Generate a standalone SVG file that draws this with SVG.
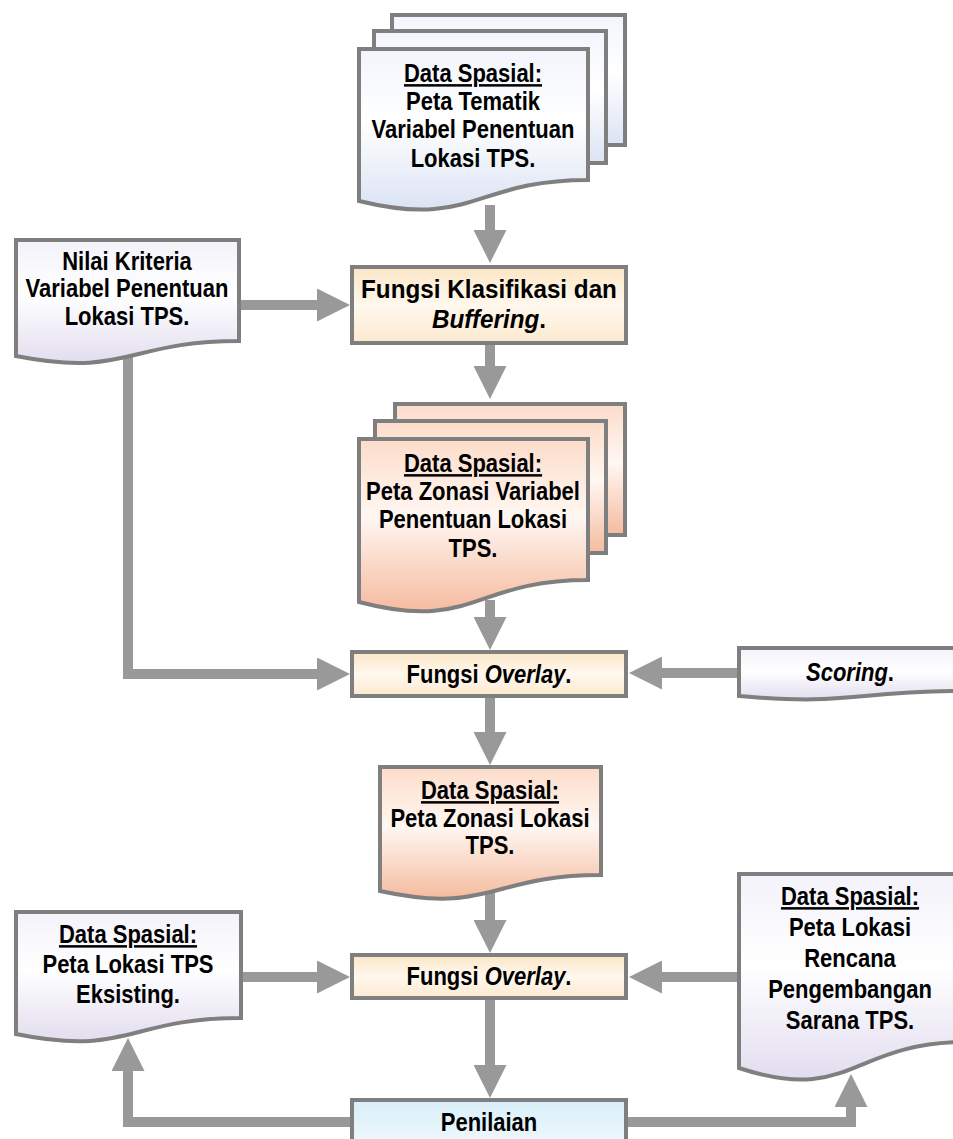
<svg xmlns="http://www.w3.org/2000/svg" width="953" height="1139" viewBox="0 0 953 1139">
  <style>
    .shape { stroke: #7f7f7f; stroke-width: 4; stroke-linejoin: miter; }
    .lbl { font-family: "Liberation Sans", Arial, sans-serif; font-weight: bold; font-size: 25px; fill: #000; text-anchor: middle; }
    .it { font-style: italic; }
    .ul { text-decoration: underline; }
    .conn { fill: none; stroke: #999999; stroke-width: 10; stroke-linejoin: miter; marker-end: url(#head); }
  </style>
  <defs>
    <marker id="head" viewBox="0 0 10 10" refX="0" refY="5" markerWidth="3.3" markerHeight="3.3" orient="auto" markerUnits="strokeWidth">
      <path d="M0,0 L10,5 L0,10 Z" fill="#999999"/>
    </marker>
    <linearGradient id="gBlue" x1="0" y1="0" x2="0" y2="1">
      <stop offset="0" stop-color="#f2f5fc"/>
      <stop offset="0.45" stop-color="#ffffff"/>
      <stop offset="1" stop-color="#dbe3f3"/>
    </linearGradient>
    <linearGradient id="gPeach" x1="0" y1="0" x2="0" y2="1">
      <stop offset="0" stop-color="#fcdcca"/>
      <stop offset="0.45" stop-color="#fff7f2"/>
      <stop offset="1" stop-color="#f5bb9f"/>
    </linearGradient>
    <linearGradient id="gLav" x1="0" y1="0" x2="0" y2="1">
      <stop offset="0" stop-color="#f4f2fa"/>
      <stop offset="0.45" stop-color="#ffffff"/>
      <stop offset="1" stop-color="#e2ddef"/>
    </linearGradient>
    <linearGradient id="gCream" x1="0" y1="0" x2="0" y2="1">
      <stop offset="0" stop-color="#fbe6c6"/>
      <stop offset="0.5" stop-color="#fff8ee"/>
      <stop offset="1" stop-color="#fce9cf"/>
    </linearGradient>
    <linearGradient id="gSky" x1="0" y1="0" x2="0" y2="1">
      <stop offset="0" stop-color="#d8eef8"/>
      <stop offset="1" stop-color="#f6fbfe"/>
    </linearGradient>
  </defs>

  <!-- connectors -->
  <g id="connectors">
    <path class="conn" d="M490,205 V230"/>
    <path class="conn" d="M241,305 H317"/>
    <path class="conn" d="M490,345 V366"/>
    <path class="conn" d="M490,600 V617"/>
    <path class="conn" d="M128,355 V674 H317"/>
    <path class="conn" d="M737,673 H662"/>
    <path class="conn" d="M490,698 V732"/>
    <path class="conn" d="M490,893 V920"/>
    <path class="conn" d="M243,977 H317"/>
    <path class="conn" d="M737,977 H662"/>
    <path class="conn" d="M490,1000 V1065"/>
    <path class="conn" d="M352,1122 H128 V1071"/>
    <path class="conn" d="M626,1122 H851 V1107"/>
  </g>

  <!-- stacked spatial data: thematic maps -->
  <g id="doc-peta-tematik">
    <rect class="shape" x="392" y="15" width="233" height="130" fill="url(#gBlue)"/>
    <rect class="shape" x="374" y="31" width="232" height="132" fill="url(#gBlue)"/>
    <path class="shape" d="M359,49 H588 V180 C473.5,180 473.5,229 359,201 Z" fill="url(#gBlue)"/>
    <g transform="matrix(0.88,0,0,1,473,0)">
      <text class="lbl" x="0" y="82"><tspan class="ul">Data Spasial:</tspan></text>
      <text class="lbl" x="0" y="110">Peta Tematik</text>
      <text class="lbl" x="0" y="138">Variabel Penentuan</text>
      <text class="lbl" x="0" y="167">Lokasi TPS.</text>
    </g>
  </g>

  <g id="doc-nilai-kriteria">
    <path class="shape" d="M16,240 H239 V341 C127.5,341 127.5,378 16,356 Z" fill="url(#gLav)"/>
    <g transform="matrix(0.88,0,0,1,127,0)">
      <text class="lbl" x="0" y="270">Nilai Kriteria</text>
      <text class="lbl" x="0" y="297">Variabel Penentuan</text>
      <text class="lbl" x="0" y="325">Lokasi TPS.</text>
    </g>
  </g>

  <g id="proc-klasifikasi">
    <rect class="shape" x="352" y="267" width="274" height="76" fill="url(#gCream)"/>
    <g transform="matrix(0.97,0,0,1,489,0)">
      <text class="lbl" x="0" y="298">Fungsi Klasifikasi dan</text>
      <text class="lbl" x="0" y="328"><tspan class="it">Buffering</tspan>.</text>
    </g>
  </g>

  <!-- stacked spatial data: zoning maps -->
  <g id="doc-peta-zonasi-variabel">
    <rect class="shape" x="395" y="404" width="230" height="131" fill="url(#gPeach)"/>
    <rect class="shape" x="375" y="421" width="231" height="132" fill="url(#gPeach)"/>
    <path class="shape" d="M359,439 H588 V580 C473.5,580 473.5,632 359,602 Z" fill="url(#gPeach)"/>
    <g transform="matrix(0.88,0,0,1,473,0)">
      <text class="lbl" x="0" y="472"><tspan class="ul">Data Spasial:</tspan></text>
      <text class="lbl" x="0" y="500">Peta Zonasi Variabel</text>
      <text class="lbl" x="0" y="528">Penentuan Lokasi</text>
      <text class="lbl" x="0" y="557">TPS.</text>
    </g>
  </g>

  <g id="proc-overlay-1">
    <rect class="shape" x="352" y="652" width="274" height="44" fill="url(#gCream)"/>
    <g transform="matrix(0.88,0,0,1,489,0)">
      <text class="lbl" x="0" y="683">Fungsi <tspan class="it">Overlay</tspan>.</text>
    </g>
  </g>

  <g id="doc-scoring">
    <path class="shape" d="M739,648 H967 V691 C851,691 851,706 739,696 Z" fill="url(#gLav)"/>
    <g transform="matrix(0.88,0,0,1,850,0)">
      <text class="lbl" x="0" y="681"><tspan class="it">Scoring</tspan>.</text>
    </g>
  </g>

  <g id="doc-peta-zonasi-lokasi">
    <path class="shape" d="M380,767 H601 V875 C490.5,875 490.5,915 380,891 Z" fill="url(#gPeach)"/>
    <g transform="matrix(0.88,0,0,1,490,0)">
      <text class="lbl" x="0" y="799"><tspan class="ul">Data Spasial:</tspan></text>
      <text class="lbl" x="0" y="827">Peta Zonasi Lokasi</text>
      <text class="lbl" x="0" y="854">TPS.</text>
    </g>
  </g>

  <g id="doc-tps-eksisting">
    <path class="shape" d="M16,912 H241 V1018 C128.5,1018 128.5,1057 16,1034 Z" fill="url(#gLav)"/>
    <g transform="matrix(0.88,0,0,1,128,0)">
      <text class="lbl" x="0" y="943"><tspan class="ul">Data Spasial:</tspan></text>
      <text class="lbl" x="0" y="973">Peta Lokasi TPS</text>
      <text class="lbl" x="0" y="1003">Eksisting.</text>
    </g>
  </g>

  <g id="proc-overlay-2">
    <rect class="shape" x="352" y="955" width="274" height="43" fill="url(#gCream)"/>
    <g transform="matrix(0.88,0,0,1,489,0)">
      <text class="lbl" x="0" y="985">Fungsi <tspan class="it">Overlay</tspan>.</text>
    </g>
  </g>

  <g id="doc-rencana">
    <path class="shape" d="M739,874 H967 V1042 C851,1042 851,1105 739,1068 Z" fill="url(#gLav)"/>
    <g transform="matrix(0.88,0,0,1,850,0)">
      <text class="lbl" x="0" y="905"><tspan class="ul">Data Spasial:</tspan></text>
      <text class="lbl" x="0" y="936">Peta Lokasi</text>
      <text class="lbl" x="0" y="967">Rencana</text>
      <text class="lbl" x="0" y="998">Pengembangan</text>
      <text class="lbl" x="0" y="1029">Sarana TPS.</text>
    </g>
  </g>

  <g id="proc-penilaian">
    <rect class="shape" x="352" y="1100" width="274" height="60" fill="url(#gSky)"/>
    <g transform="matrix(0.88,0,0,1,489,0)">
      <text class="lbl" x="0" y="1131">Penilaian</text>
    </g>
  </g>
</svg>
